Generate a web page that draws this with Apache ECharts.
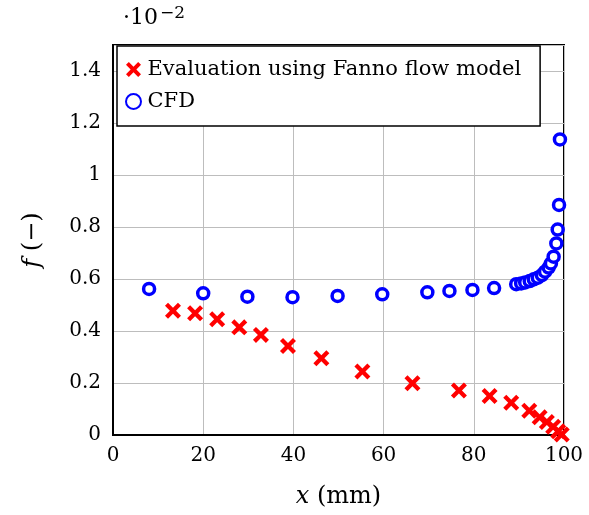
<!DOCTYPE html>
<html>
<head>
<meta charset="utf-8">
<script src="https://cdn.jsdelivr.net/npm/echarts@6/dist/echarts.min.js"></script>
<style>
  html, body { margin: 0; padding: 0; background: #fff; }
  #chart { width: 589px; height: 515px; }
</style>
</head>
<body>
<div id="chart"></div>
<script>
// Friction factor along the duct (values scaled by 10^-2)
const fannoX = [13.3, 18.2, 23.1, 28.0, 32.8, 38.8, 46.2, 55.3, 66.4, 76.7, 83.5, 88.3, 92.3, 94.6, 96.2, 97.6, 98.7, 99.5];
const fannoF = [0.478, 0.468, 0.445, 0.414, 0.385, 0.342, 0.295, 0.244, 0.199, 0.171, 0.150, 0.124, 0.093, 0.068, 0.050, 0.032, 0.014, 0.002];

const cfdX = [8.0, 20.0, 29.8, 39.8, 49.8, 59.7, 69.7, 74.6, 79.7, 84.5, 89.4, 90.5, 91.4, 92.4, 93.3, 94.2, 95.1, 95.8, 96.6, 97.1, 97.7, 98.3, 98.6, 98.9, 99.1];
const cfdF = [0.562, 0.545, 0.532, 0.530, 0.535, 0.541, 0.549, 0.554, 0.558, 0.565, 0.580, 0.583, 0.587, 0.592, 0.599, 0.605, 0.615, 0.628, 0.644, 0.660, 0.686, 0.737, 0.790, 0.885, 1.137];

const xTicks = [0, 20, 40, 60, 80, 100];
const yTicks = [0, 0.2, 0.4, 0.6, 0.8, 1, 1.2, 1.4];

const serif = '"DejaVu Serif", "Liberation Serif", serif';
const crossPath = 'path://M1.9,0 L5,3.1 L8.1,0 L10,1.9 L6.9,5 L10,8.1 L8.1,10 L5,6.9 L1.9,10 L0,8.1 L3.1,5 L0,1.9 Z';

const chart = echarts.init(document.getElementById('chart'), null, { renderer: 'canvas' });

chart.setOption({
  animation: false,
  backgroundColor: '#fff',
  grid: {
    left: 113, right: 25, top: 45, bottom: 80,
    show: true, borderColor: '#000', borderWidth: 2, backgroundColor: 'transparent'
  },
  legend: {
    orient: 'vertical',
    left: 117, top: 46,
    backgroundColor: '#fff',
    borderColor: '#000', borderWidth: 1.5, borderRadius: 0,
    padding: [13, 19, 14, 8],
    itemGap: 11,
    itemWidth: 18, itemHeight: 15,
    textStyle: { fontFamily: serif, fontSize: 21, color: '#000' },
    data: ['Evaluation using Fanno flow model', 'CFD']
  },
  graphic: [{
    type: 'text',
    left: 123, top: 5,
    style: {
      text: '·10{sup|−2}',
      font: '22px ' + serif,
      fill: '#000',
      rich: { sup: { fontSize: 17, fontFamily: serif, verticalAlign: 'top', padding: [0, 0, 10, 2] } }
    }
  }],
  xAxis: {
    type: 'value', min: 0, max: 100, interval: 20,
    name: '{i|x} (mm)',
    nameLocation: 'middle', nameGap: 50,
    nameTextStyle: {
      fontFamily: serif, fontSize: 24, color: '#000',
      rich: { i: { fontFamily: serif, fontStyle: 'italic', fontSize: 24 } }
    },
    axisLine: { show: true, onZero: false, lineStyle: { color: '#000', width: 2 } },
    axisTick: { show: false },
    axisLabel: { fontFamily: serif, fontSize: 20, color: '#000', margin: 11 },
    splitLine: { show: true, lineStyle: { color: '#bdbdbd', width: 1 } }
  },
  yAxis: {
    type: 'value', min: 0, max: 1.5, interval: 0.2,
    name: '{i|f} (−)',
    nameLocation: 'middle', nameGap: 68,
    nameTextStyle: {
      fontFamily: serif, fontSize: 24, color: '#000',
      rich: { i: { fontFamily: serif, fontStyle: 'italic', fontSize: 24 } }
    },
    axisLine: { show: true, onZero: false, lineStyle: { color: '#000', width: 2 } },
    axisTick: { show: false },
    axisLabel: {
      fontFamily: serif, fontSize: 20, color: '#000', margin: 12,
      formatter: v => (yTicks.some(t => Math.abs(t - v) < 1e-9) ? String(+v.toFixed(1)) : '')
    },
    splitLine: { show: true, lineStyle: { color: '#bdbdbd', width: 1 } }
  },
  series: [
    {
      name: 'Evaluation using Fanno flow model',
      type: 'scatter',
      symbol: crossPath,
      symbolSize: 16,
      itemStyle: { color: '#ff0000', opacity: 1 },
      data: fannoX.map((x, i) => [x, fannoF[i]]),
      z: 3
    },
    {
      name: 'CFD',
      type: 'scatter',
      symbol: 'circle',
      symbolSize: 11,
      itemStyle: { color: '#fff', borderColor: '#0000ff', borderWidth: 3.5, opacity: 1 },
      data: cfdX.map((x, i) => [x, cfdF[i]]),
      z: 4
    }
  ]
});
</script>
</body>
</html>
